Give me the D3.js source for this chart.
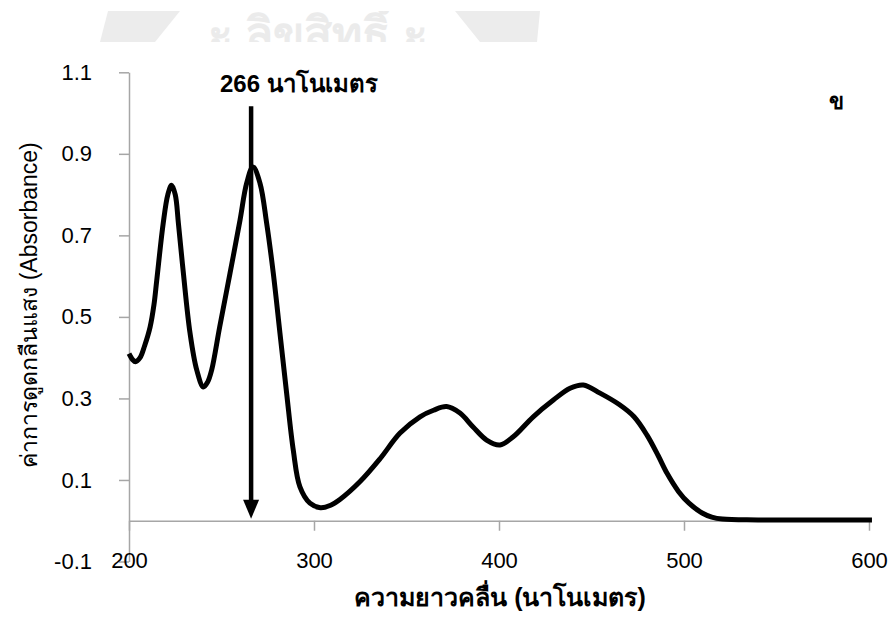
<!DOCTYPE html>
<html>
<head>
<meta charset="utf-8">
<script src="https://cdn.jsdelivr.net/npm/d3@7"></script>
<style>
  html, body { margin: 0; padding: 0; background: #fff; }
  svg { display: block; }
  text { font-family: "Liberation Sans", Arial, "Noto Sans", sans-serif; }
</style>
</head>
<body>
<svg id="chart" width="892" height="622"></svg>
<script>
// ---- data ----
const wavelength = [200, 202, 203.5, 206, 208.5, 211.4, 213.5, 215, 218.5, 221, 223, 225, 226.7, 229.4, 233, 236.6, 240.2, 242.5, 244.7, 249, 254.6, 260, 263.6, 267, 270.8, 274.4, 278, 281.6, 285.2, 288.8, 292.4, 297.8, 303.5, 309, 314, 324.9, 335.7, 346.5, 357.3, 364.6, 371.7, 378.9, 386, 393.3, 400.5, 407.7, 418.5, 429.4, 438.4, 445.6, 454.6, 465, 473, 480, 486, 491, 497, 502.7, 509.8, 515, 520.8, 540, 601.6];
const absorbance = [0.41, 0.395, 0.39, 0.40, 0.43, 0.475, 0.53, 0.59, 0.73, 0.80, 0.823, 0.80, 0.73, 0.607, 0.46, 0.37, 0.328, 0.34, 0.37, 0.475, 0.607, 0.737, 0.828, 0.868, 0.828, 0.73, 0.607, 0.46, 0.313, 0.173, 0.083, 0.043, 0.032, 0.038, 0.052, 0.096, 0.152, 0.215, 0.255, 0.271, 0.28, 0.264, 0.23, 0.198, 0.186, 0.206, 0.255, 0.296, 0.325, 0.333, 0.313, 0.285, 0.255, 0.21, 0.16, 0.115, 0.072, 0.043, 0.019, 0.009, 0.004, 0.002, 0.002];
const xTicks = [200, 300, 400, 500, 600];
const yTicks = [-0.1, 0.1, 0.3, 0.5, 0.7, 0.9, 1.1];
const peakWavelength = 266;
const peakLabel = "266 นาโนเมตร";
const arrowTop = 1.017;
const xTitle = "ความยาวคลื่น (นาโนเมตร)";
const yTitle = "ค่าการดูดกลืนแสง (Absorbance)";
const panelLabel = "ข";

// ---- scales ----
const svg = d3.select("#chart");
const x = d3.scaleLinear().domain([200, 600]).range([129, 869]);
const y = d3.scaleLinear().domain([-0.1, 1.1]).range([561.5, 72.3]);
const axisColor = "#a6a6a6";

// watermark (faded, cut off at top)
svg.append("defs").append("clipPath").attr("id", "wmclip")
  .append("rect").attr("x", 0).attr("y", 11).attr("width", 892).attr("height", 31);
const wm = svg.append("g").attr("fill", "#ececec").attr("clip-path", "url(#wmclip)");
wm.append("path").attr("d", "M108,11 L180,11 L155,42 L100,42 Z");
wm.append("path").attr("d", "M455,11 L540,11 L537,42 L480,42 Z");
wm.append("text").attr("x", 318).attr("y", 50).attr("text-anchor", "middle")
  .attr("font-size", 46).attr("font-weight", "bold").attr("fill", "#ebebeb")
  .text("ะ ลิขสิทธิ์ ะ");

// ---- axes ----
const yAxis = d3.axisLeft(y).tickValues(yTicks).tickSize(10).tickSizeOuter(0).tickPadding(27)
  .tickFormat(d3.format(".1f"));
const gy = svg.append("g").attr("transform", `translate(${x(200)},0)`).call(yAxis);
gy.select(".domain").attr("stroke", axisColor).attr("stroke-width", 1.5);
gy.selectAll(".tick line").attr("stroke", axisColor).attr("stroke-width", 1.5);
gy.selectAll(".tick text").attr("font-size", 22).attr("fill", "#000")
  .attr("font-family", "Liberation Sans, Arial, sans-serif")
  .text(d => d < 0 ? "-" + Math.abs(d).toFixed(1) : d.toFixed(1));

const xAxis = d3.axisBottom(x).tickValues(xTicks).tickSize(10).tickSizeOuter(0).tickPadding(22);
const gx = svg.append("g").attr("transform", `translate(0,${y(0)})`).call(xAxis);
gx.select(".domain").attr("stroke", axisColor).attr("stroke-width", 1.5);
gx.selectAll(".tick line").attr("stroke", axisColor).attr("stroke-width", 1.5);
gx.selectAll(".tick text").attr("font-size", 22).attr("fill", "#000")
  .attr("font-family", "Liberation Sans, Arial, sans-serif");

// ---- spectrum line ----
const pts = wavelength.map((w, i) => [w, absorbance[i]]);
const line = d3.line().x(d => x(d[0])).y(d => y(d[1])).curve(d3.curveCatmullRom.alpha(0.5));
svg.append("path").datum(pts).attr("d", line)
  .attr("fill", "none").attr("stroke", "#000").attr("stroke-width", 5)
  .attr("stroke-linejoin", "round").attr("stroke-linecap", "butt");

// ---- arrow annotation ----
const ax = x(peakWavelength);
const tipY = y(0) - 2;
svg.append("line").attr("x1", ax).attr("x2", ax).attr("y1", y(arrowTop)).attr("y2", tipY - 14)
  .attr("stroke", "#000").attr("stroke-width", 4.5);
svg.append("path")
  .attr("d", `M${ax - 8},${tipY - 19} L${ax + 8},${tipY - 19} L${ax},${tipY} Z`)
  .attr("fill", "#000");

svg.append("text").attr("x", 220).attr("y", 92)
  .attr("font-size", 24).attr("font-weight", "bold").attr("fill", "#000")
  .text(peakLabel);

svg.append("text").attr("x", 836).attr("y", 109).attr("text-anchor", "middle")
  .attr("font-size", 22).attr("font-weight", "bold").attr("fill", "#000")
  .text(panelLabel);

// ---- titles ----
svg.append("text").attr("x", 500).attr("y", 606).attr("text-anchor", "middle")
  .attr("font-size", 25).attr("font-weight", "bold").attr("fill", "#000")
  .text(xTitle);

svg.append("text").attr("transform", "translate(37,305) rotate(-90)")
  .attr("text-anchor", "middle").attr("font-size", 23).attr("fill", "#000")
  .text(yTitle);
</script>
</body>
</html>
